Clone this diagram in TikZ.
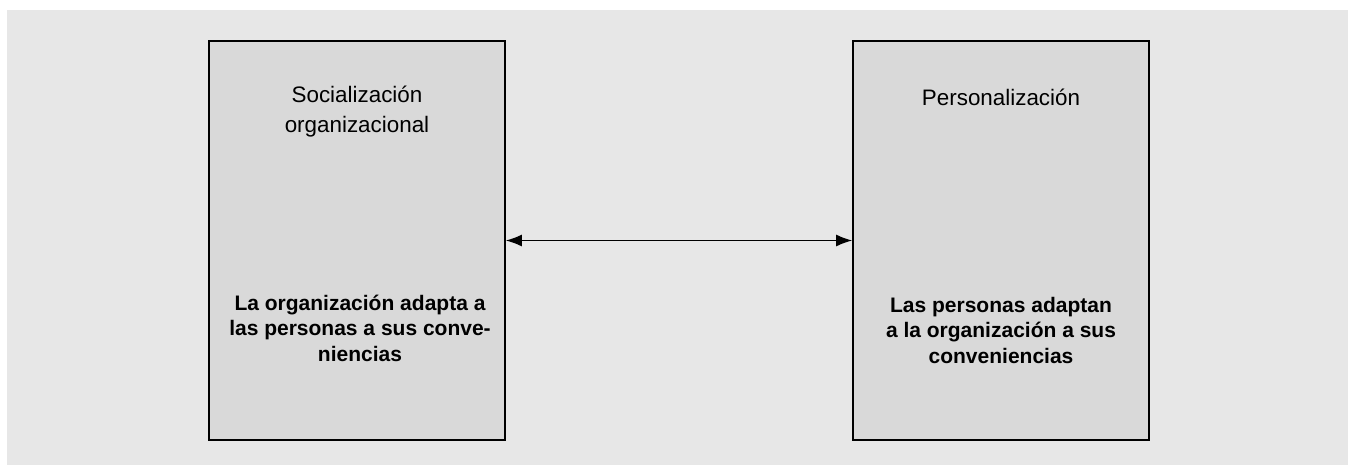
\documentclass[tikz,border=0pt]{standalone}
\usepackage{fontspec}
\setmainfont{Liberation Sans}
\usepackage{xcolor}
\definecolor{bggray}{HTML}{E7E7E7}
\definecolor{boxgray}{HTML}{D9D9D9}
\usetikzlibrary{arrows.meta, positioning}

\begin{document}
\begin{tikzpicture}[
    x=0.5pt, y=-0.5pt,
    box/.style={
        rectangle, draw, fill=boxgray, line width=0.9pt,
        minimum width=148pt,
        minimum height=199.5pt,
        inner sep=0pt
    },
    title/.style={align=center, font=\fontsize{11.2}{15}\selectfont},
    desc/.style={align=center, font=\bfseries\fontsize{10.5}{12.75}\selectfont},
    arr/.style={{Latex[length=8pt,width=6pt]}-{Latex[length=8pt,width=6pt]}, line width=0.6pt}
]
    \useasboundingbox (0,0) rectangle (1348,465);
    \fill[bggray] (7,10) rectangle (1348,465);

    \node[box] (soc)  at (357,240.5)  {};
    \node[box] (pers) at (1001,240.5) {};

    \node[title] (socname)  at (357,112)  {Socialización\\organizacional};
    \node[title] (persname) at (1001,97) {Personalización};

    \node[desc] (socdesc)  at (360,328) {La organización adapta a\\las personas a sus conve-\\niencias};
    \node[desc] (persdesc) at (1001,330) {Las personas adaptan\\a la organización a sus\\conveniencias};

    \draw[arr] (soc.east) -- (pers.west);
\end{tikzpicture}
\end{document}
